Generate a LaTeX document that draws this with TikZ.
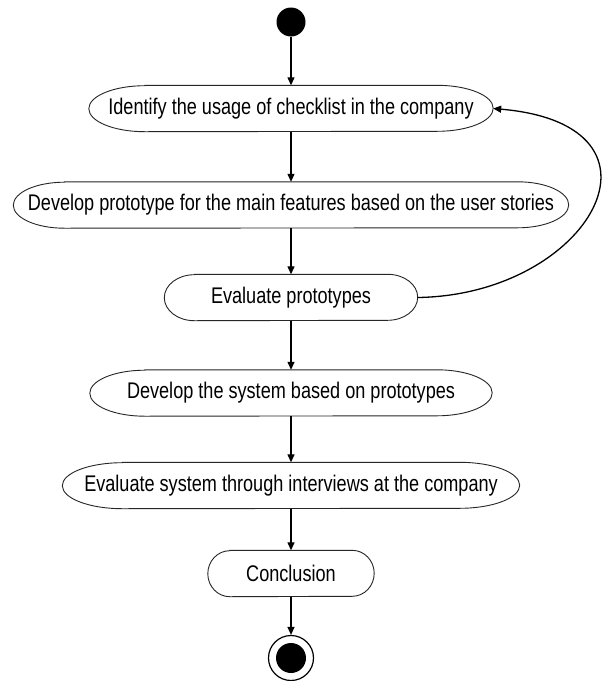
\documentclass[tikz,border=0pt]{standalone}
\usepackage{graphicx}
\usepackage{fontspec}
\setmainfont{Liberation Sans}
\usetikzlibrary{arrows.meta,calc}
\tikzset{
  act/.style={rectangle, inner sep=0pt, minimum height=46pt, font=\fontsize{18.1}{21}\selectfont, text=black},
  actline/.style={draw=black!85, line width=0.9pt},
  flow/.style={-{Triangle[length=8pt,width=7pt]}, line width=1.3pt},
}
\newcommand\tallText[1]{\scalebox{1}[1.25]{#1}}
\newcommand\actbox[6]{%
  \node[act, minimum width={2*#4pt}] (#1) at (#2,#3) {\tallText{#6}};
  \draw[actline] ($(#1.north west)+(#5pt,0pt)$) -- ($(#1.north east)-(#5pt,0pt)$)
    arc[start angle=90, end angle=-90, x radius=#5pt, y radius=23pt]
    -- ($(#1.south west)+(#5pt,0pt)$)
    arc[start angle=270, end angle=90, x radius=#5pt, y radius=23pt] -- cycle;
}
\begin{document}
\begin{tikzpicture}[x=1pt,y=-1pt]
  \fill[white] (0,0) rectangle (602,681);
  \useasboundingbox (0,0) rectangle (602,681);
  \node[circle, fill=black, inner sep=0pt, minimum size=29pt] (start) at (291,22) {};
  \actbox{n1}{291}{108.5}{202}{56}{Identify the usage of checklist in the company}
  \actbox{n2}{291}{205}{277.5}{51}{Develop prototype for the main features based on the user stories}
  \actbox{n3}{291}{297.5}{126.5}{30}{Evaluate prototypes}
  \actbox{n4}{291}{393}{201}{55}{Develop the system based on prototypes}
  \actbox{n5}{291}{485.5}{228.5}{60}{Evaluate system through interviews at the company}
  \actbox{n6}{291}{573.5}{83}{22}{Conclusion}
  \node[circle, draw=black, line width=1.2pt, inner sep=0pt, minimum size=45pt] (stop) at (291,658) {};
  \node[circle, fill=black, inner sep=0pt, minimum size=30pt] (stopdot) at (stop) {};
  \draw[flow] (start) -- (n1.north);
  \draw[flow] (n1.south) -- (n2.north);
  \draw[flow] (n2.south) -- (n3.north);
  \draw[flow] (n3.south) -- (n4.north);
  \draw[flow] (n4.south) -- (n5.north);
  \draw[flow] (n5.south) -- (n6.north);
  \draw[flow] (n6.south) -- (stop.north);
  \draw[flow] (n3.east) .. controls (590,295) and (685,125) .. (n1.east);
\end{tikzpicture}
\end{document}
